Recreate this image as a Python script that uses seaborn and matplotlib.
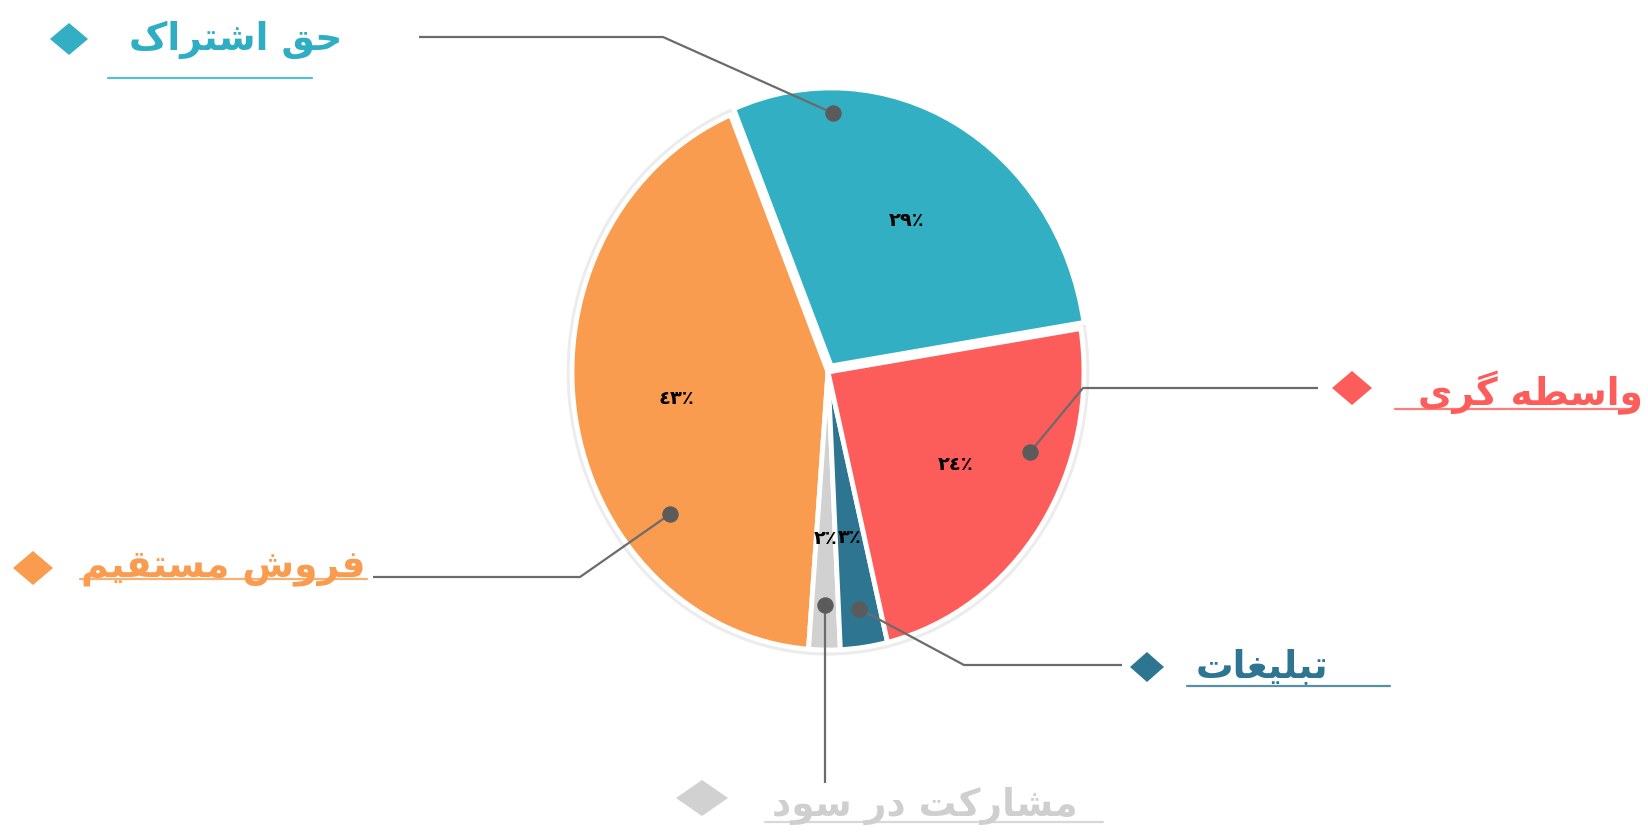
import matplotlib
matplotlib.use("Agg")
import numpy as np
import matplotlib.pyplot as plt
from matplotlib.patches import Polygon, Ellipse
import seaborn as sns

# ---- data -------------------------------------------------------------
categories = ["حق اشتراک", "فروش مستقیم", "مشارکت در سود", "تبلیغات", "واسطه گری"]
shares = [29, 43, 2, 3, 24]
pct_labels = ["٢٩٪", "٤٣٪", "٢٪", "٣٪", "٢٤٪"]
slice_colors = ["#33AFC3", "#F99C4F", "#D1D1D1", "#2E7591", "#FD5D5A"]
text_colors = ["#2FAEC3", "#F99C4F", "#CFCFCF", "#2E7591", "#FD5D5A"]
explode = [0.025, 0, 0, 0, 0]

# ---- minimal Arabic-script shaping (matplotlib draws glyphs left-to-right) ----
FORMS = {
    "ا": ("\uFE8D", "\uFE8E", None, None),
    "ب": ("\uFE8F", "\uFE90", "\uFE91", "\uFE92"),
    "ت": ("\uFE95", "\uFE96", "\uFE97", "\uFE98"),
    "ح": ("\uFEA1", "\uFEA2", "\uFEA3", "\uFEA4"),
    "د": ("\uFEA9", "\uFEAA", None, None),
    "ر": ("\uFEAD", "\uFEAE", None, None),
    "س": ("\uFEB1", "\uFEB2", "\uFEB3", "\uFEB4"),
    "ش": ("\uFEB5", "\uFEB6", "\uFEB7", "\uFEB8"),
    "ط": ("\uFEC1", "\uFEC2", "\uFEC3", "\uFEC4"),
    "غ": ("\uFECD", "\uFECE", "\uFECF", "\uFED0"),
    "ف": ("\uFED1", "\uFED2", "\uFED3", "\uFED4"),
    "ق": ("\uFED5", "\uFED6", "\uFED7", "\uFED8"),
    "ل": ("\uFEDD", "\uFEDE", "\uFEDF", "\uFEE0"),
    "م": ("\uFEE1", "\uFEE2", "\uFEE3", "\uFEE4"),
    "ه": ("\uFEE9", "\uFEEA", "\uFEEB", "\uFEEC"),
    "و": ("\uFEED", "\uFEEE", None, None),
    "ک": ("\uFB8E", "\uFB8F", "\uFB90", "\uFB91"),
    "گ": ("\uFB92", "\uFB93", "\uFB94", "\uFB95"),
    "ی": ("\uFBFC", "\uFBFD", "\uFBFE", "\uFBFF"),
}


def shape_rtl(text):
    chars = list(text)
    out = []
    for i, c in enumerate(chars):
        if c not in FORMS:
            out.append(c)
            continue
        prev = chars[i - 1] if i > 0 else None
        nxt = chars[i + 1] if i + 1 < len(chars) else None
        join_prev = prev in FORMS and FORMS[prev][2] is not None
        join_next = nxt in FORMS and FORMS[c][2] is not None
        iso, fin, ini, med = FORMS[c]
        if join_prev and join_next:
            out.append(med)
        elif join_prev:
            out.append(fin)
        elif join_next:
            out.append(ini)
        else:
            out.append(iso)
    return "".join(reversed(out))


# ---- figure -------------------------------------------------------------
sns.set_theme(style="white")
plt.rcParams["font.family"] = ["DejaVu Sans"]

W, H = 1649, 833
fig = plt.figure(figsize=(W / 100, H / 100), dpi=100)
ax = fig.add_axes([0, 0, 1, 1])

# pie centre and radii in pixels (the pie is drawn slightly taller than wide)
CX, CY, RX, RY = 828, 372, 256, 278


def set_frame():
    ax.set_xlim(-CX / RX, (W - CX) / RX)
    ax.set_ylim(-(H - CY) / RY, CY / RY)
    ax.set_aspect("auto")
    ax.axis("off")


def px(x, y):
    return (x - CX) / RX, (CY - y) / RY


# soft outline behind the pie
ax.add_patch(Ellipse((0, 0), 2.02, 2.02, facecolor="none",
                     edgecolor="#ECECEC", linewidth=4, zorder=0))

wedges, _, autotexts = ax.pie(
    shares, colors=slice_colors, startangle=9, counterclock=True,
    explode=explode, autopct="%1.0f", pctdistance=0.6,
    wedgeprops=dict(edgecolor="white", linewidth=3.5),
    textprops=dict(fontsize=14, fontweight="bold", color="black"),
    frame=True,
)
set_frame()
for t, s in zip(autotexts, pct_labels):
    t.set_text(s)

# where each leader dot sits inside its wedge: (fraction of the sweep, radius)
dot_anchor = [(0.78, 0.91), (0.70, 0.80), (0.5, 0.84), (0.5, 0.86), (0.66, 0.84)]
# elbow / end points of the leader lines in pixels (None = straight drop)
leader_tail = [
    [(663, 37), (419, 37)],
    [(580, 577), (373, 577)],
    None,
    [(964, 665), (1122, 665)],
    [(1083, 388), (1318, 388)],
]
label_pos = [(236, 40), (223, 568), (925, 806), (1262, 667), (1530, 393)]
underline = [((108, 312), 78), ((80, 367), 579), ((765, 1103), 822),
             ((1187, 1390), 686), ((1395, 1633), 409)]
diamonds = [((69, 39), 19, 16), ((33, 568), 20, 17), ((702, 798), 26, 18),
            ((1147, 667), 17, 15), ((1352, 388), 20, 17)]

for i, name in enumerate(categories):
    w = wedges[i]
    frac, rad = dot_anchor[i]
    ang = np.deg2rad(w.theta1 + frac * (w.theta2 - w.theta1))
    cx0, cy0 = w.center
    dot = (cx0 + rad * np.cos(ang), cy0 + rad * np.sin(ang))
    if leader_tail[i] is None:
        pts = [dot, (dot[0], px(0, 783)[1])]
    else:
        pts = [dot] + [px(*p) for p in leader_tail[i]]
    xs, ys = zip(*pts)
    ax.plot(xs, ys, color="#6B6B6B", linewidth=1.6, zorder=4,
            solid_capstyle="butt")
    ax.scatter([xs[0]], [ys[0]], s=140, color="#5B5B5B", zorder=5,
               linewidths=0)

    lx, ly = px(*label_pos[i])
    ax.text(lx, ly, shape_rtl(name), ha="center", va="center",
            fontsize=27, fontweight="bold", color=text_colors[i], zorder=6)

    (u0, u1), uy = underline[i]
    a, b = px(u0, uy), px(u1, uy)
    ax.plot([a[0], b[0]], [a[1], b[1]], color=text_colors[i], alpha=0.8,
            linewidth=1.6, zorder=5)

    (dx, dy), hw, hh = diamonds[i]
    poly = [px(dx - hw, dy), px(dx, dy - hh), px(dx + hw, dy), px(dx, dy + hh)]
    ax.add_patch(Polygon(poly, closed=True, facecolor=slice_colors[i],
                         edgecolor="none", zorder=6))

fig.savefig("out.png", dpi=100, facecolor="white")
